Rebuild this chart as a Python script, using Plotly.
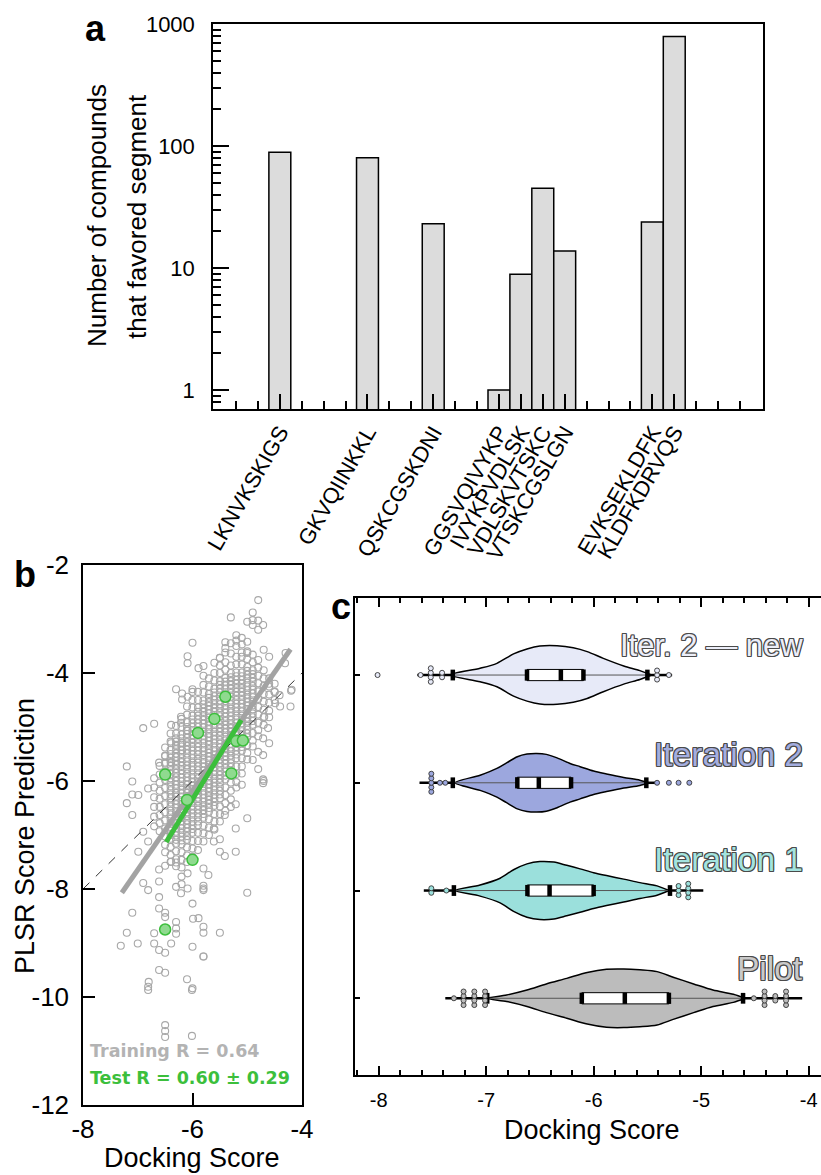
import plotly.graph_objects as go

# figure fills the whole 821x1175 window (body margin removed in post_script)
PAGE_W, PAGE_H = 821, 1175
OFF = 0
W, H = PAGE_W - OFF, PAGE_H - OFF


def fx(px):
    return (px - OFF) / W


def fy(py):
    return 1 - (py - OFF) / H


# ---------------- panel a data ----------------
seg_labels = ["LKNVKSKIGS", "GKVQIINKKL", "QSKCGSKDNI", "GGSVQIVYKP", "IVYKPVDLSK",
              "VDLSKVTSKC", "VTSKCGSLGN", "EVKSEKLDFK", "KLDFKDRVQS"]
seg_slots = [2, 6, 9, 12, 13, 14, 15, 19, 20]
seg_counts = [89, 80, 23, 1, 8.9, 45, 13.8, 23.8, 790]
unlabeled_major_slots = [4]
n_slots = 24
ya_ticks = [1, 10, 100, 1000]
ya_minor = [0.8, 0.9, 2, 3, 4, 5, 6, 7, 8, 9, 20, 30, 40, 50, 60, 70, 80, 90,
            200, 300, 400, 500, 600, 700, 800, 900]

# ---------------- panel b data ----------------
xb_ticks = [-8, -6, -4]
yb_ticks = [-12, -10, -8, -6, -4, -2]
train_cols_x = [-6.7, -6.6, -6.5, -6.4, -6.3, -6.2, -6.1, -6.0, -5.9, -5.8, -5.7, -5.6,
                -5.5, -5.4, -5.3, -5.2, -5.1, -5.0, -4.9, -4.8, -4.7, -4.6, -4.5]
train_cols_y = [
    [-5.95, -6.12, -6.3, -6.48, -6.66, -6.84],
    [-5.72, -5.88, -6.03, -6.18, -6.33, -6.48, -6.63, -6.78, -6.93],
    [-5.38, -5.53, -5.68, -5.83, -5.98, -6.13, -6.28, -6.43, -6.58, -6.73, -6.88, -7.03, -7.18, -7.32],
    [-5.12, -5.27, -5.42, -5.57, -5.72, -5.87, -6.02, -6.17, -6.32, -6.47, -6.62, -6.77, -6.92, -7.07,
     -7.22, -7.37, -7.5],
    [-4.98, -5.12, -5.27, -5.41, -5.56, -5.7, -5.85, -6.0, -6.14, -6.29, -6.43, -6.58, -6.72, -6.87,
     -7.01, -7.16, -7.3, -7.45, -7.58],
    [-4.85, -5.0, -5.14, -5.29, -5.43, -5.58, -5.72, -5.87, -6.01, -6.16, -6.3, -6.45, -6.59, -6.74,
     -6.88, -7.03, -7.17, -7.32, -7.46, -7.6],
    [-4.62, -4.77, -4.91, -5.06, -5.2, -5.35, -5.49, -5.64, -5.78, -5.93, -6.07, -6.22, -6.36, -6.51,
     -6.65, -6.8, -6.94, -7.09, -7.23, -7.38, -7.5],
    [-4.5, -4.64, -4.79, -4.93, -5.08, -5.22, -5.37, -5.51, -5.66, -5.8, -5.95, -6.09, -6.24, -6.38,
     -6.53, -6.67, -6.82, -6.96, -7.11, -7.25, -7.4],
    [-4.35, -4.5, -4.64, -4.79, -4.93, -5.08, -5.22, -5.37, -5.51, -5.66, -5.8, -5.95, -6.09, -6.24,
     -6.38, -6.53, -6.67, -6.82, -6.96, -7.11, -7.28],
    [-4.22, -4.36, -4.51, -4.65, -4.8, -4.94, -5.09, -5.23, -5.38, -5.52, -5.67, -5.81, -5.96, -6.1,
     -6.25, -6.39, -6.54, -6.68, -6.83, -6.97, -7.12],
    [-4.1, -4.25, -4.39, -4.54, -4.68, -4.83, -4.97, -5.12, -5.26, -5.41, -5.55, -5.7, -5.84, -5.99,
     -6.13, -6.28, -6.42, -6.57, -6.71, -6.86, -7.0],
    [-4.0, -4.14, -4.29, -4.43, -4.58, -4.72, -4.87, -5.01, -5.16, -5.3, -5.45, -5.59, -5.74, -5.88,
     -6.03, -6.17, -6.32, -6.46, -6.61, -6.75, -6.9],
    [-3.86, -4.0, -4.15, -4.29, -4.44, -4.58, -4.73, -4.87, -5.02, -5.16, -5.31, -5.45, -5.6, -5.74,
     -5.89, -6.03, -6.18, -6.32, -6.47, -6.61, -6.75],
    [-3.8, -3.94, -4.09, -4.23, -4.38, -4.52, -4.67, -4.81, -4.96, -5.1, -5.25, -5.39, -5.54, -5.68,
     -5.83, -5.97, -6.12, -6.26, -6.41, -6.55],
    [-3.86, -4.0, -4.15, -4.29, -4.44, -4.58, -4.73, -4.87, -5.02, -5.16, -5.31, -5.45, -5.6, -5.74,
     -5.89, -6.03, -6.18, -6.34],
    [-3.7, -3.84, -3.99, -4.13, -4.28, -4.42, -4.57, -4.71, -4.86, -5.0, -5.15, -5.29, -5.44, -5.58,
     -5.73, -5.87, -6.02, -6.12],
    [-3.7, -3.84, -3.99, -4.13, -4.28, -4.42, -4.57, -4.71, -4.86, -5.0, -5.15, -5.29, -5.44, -5.58,
     -5.73, -5.86],
    [-3.6, -3.74, -3.89, -4.03, -4.18, -4.32, -4.47, -4.61, -4.76, -4.9, -5.05, -5.19, -5.34, -5.48, -5.6],
    [-3.66, -3.8, -3.95, -4.09, -4.24, -4.38, -4.53, -4.67, -4.82, -4.96, -5.11, -5.25, -5.36],
    [-3.76, -3.9, -4.05, -4.19, -4.34, -4.48, -4.63, -4.77, -4.92, -5.06, -5.17],
    [-3.95, -4.1, -4.24, -4.39, -4.53, -4.68, -4.82, -4.96],
    [-4.1, -4.25, -4.4, -4.55, -4.7, -4.82],
    [-4.2, -4.35, -4.5],
]
# second, interleaved layer of the densest part of the cloud
train_core2_x = [-6.4, -6.3, -6.2, -6.1, -6.0, -5.9, -5.8, -5.7, -5.6, -5.5, -5.4, -5.3, -5.2, -5.1,
                 -5.0, -4.9]
train_core2_y = [
    [-5.5, -5.65, -5.8, -5.95, -6.1, -6.25, -6.4, -6.55, -6.7, -6.85, -7.0],
    [-5.35, -5.49, -5.63, -5.78, -5.93, -6.07, -6.22, -6.36, -6.5, -6.65, -6.8, -6.94, -7.09],
    [-5.21, -5.36, -5.5, -5.65, -5.8, -5.94, -6.09, -6.23, -6.38, -6.52, -6.67, -6.81, -6.96, -7.1],
    [-5.0, -5.13, -5.28, -5.42, -5.57, -5.71, -5.86, -6.0, -6.15, -6.29, -6.44, -6.58, -6.73, -6.87, -7.02],
    [-4.86, -5.0, -5.15, -5.29, -5.44, -5.58, -5.73, -5.88, -6.02, -6.17, -6.31, -6.46, -6.6, -6.75, -6.89],
    [-4.72, -4.86, -5.0, -5.15, -5.3, -5.44, -5.59, -5.73, -5.88, -6.02, -6.17, -6.31, -6.46, -6.6, -6.75],
    [-4.58, -4.72, -4.87, -5.01, -5.16, -5.3, -5.45, -5.6, -5.74, -5.89, -6.03, -6.18, -6.32, -6.47, -6.61],
    [-4.46, -4.61, -4.75, -4.9, -5.04, -5.19, -5.33, -5.48, -5.62, -5.77, -5.91, -6.06, -6.2, -6.35, -6.5],
    [-4.36, -4.5, -4.65, -4.8, -4.94, -5.09, -5.23, -5.38, -5.52, -5.67, -5.81, -5.96, -6.1, -6.25, -6.39],
    [-4.22, -4.36, -4.51, -4.65, -4.8, -4.95, -5.09, -5.24, -5.38, -5.53, -5.67, -5.82, -5.96, -6.11, -6.25],
    [-4.16, -4.3, -4.45, -4.6, -4.74, -4.89, -5.03, -5.18, -5.32, -5.47, -5.61, -5.76, -5.9],
    [-4.08, -4.22, -4.37, -4.51, -4.66, -4.8, -4.95, -5.09, -5.24, -5.38, -5.53, -5.67, -5.82],
    [-4.06, -4.2, -4.35, -4.5, -4.64, -4.79, -4.93, -5.08, -5.22, -5.37, -5.51],
    [-4.06, -4.2, -4.35, -4.5, -4.64, -4.79, -4.93, -5.08, -5.22, -5.37],
    [-3.96, -4.1, -4.25, -4.4, -4.54, -4.69, -4.83, -4.98, -5.12],
    [-4.02, -4.16, -4.31, -4.45, -4.6, -4.75, -4.89],
]
train_extra_x = [
    -4.80, -5.30, -4.90, -5.00, -4.90, -4.80, -4.71, -4.80, -4.90,
    -5.20, -5.20, -5.10, -5.40, -5.30, -5.20, -5.10, -5.00, -5.40, -6.00,
    -5.10, -5.30, -5.40, -5.50, -5.00, -4.70, -4.60, -4.30, -4.31,
    -6.09, -6.09, -5.89, -5.80, -5.60, -5.50,
    -6.30, -6.19, -6.19, -6.09, -6.00, -5.80,
    -4.41, -4.19, -4.49, -4.40, -4.21, -4.50, -4.60, -4.20,
    -4.69, -4.62, -4.71, -4.60, -4.71, -4.80, -4.90, -4.80, -4.71,
    -6.90, -6.70, -6.39, -6.21, -6.00, -6.09, -6.21,
    -6.30, -6.39, -6.30, -6.19, -6.19,
    -6.50, -6.61, -6.50, -6.39, -6.30,
    -7.20, -7.10, -7.10, -6.99, -6.81, -7.20, -7.10, -6.90, -6.81, -6.99,
    -6.90, -6.81, -7.10, -7.20, -7.31, -7.00, -6.70, -6.70, -6.61, -6.50, -6.61, -6.50, -6.81,
    -6.61, -6.61, -6.50, -6.50, -6.30, -6.30, -6.30, -6.39,
    -6.20, -6.20, -6.21, -6.09, -6.30, -6.09, -6.00, -5.89, -6.00, -5.80, -6.10, -6.00,
    -6.61, -6.61, -6.50, -6.39, -6.30, -5.80, -5.80,
    -6.50, -6.50, -6.50, -6.81, -6.01, -6.01, -6.80,
    -5.10, -4.71, -5.21, -5.30, -5.00, -5.21, -5.41, -5.61, -5.61, -5.50, -5.50, -5.41, -5.21,
    -5.80, -5.71, -5.80, -5.80, -5.00, -5.80, -5.50, -5.80, -5.99, -4.70,
]
train_extra_y = [
    -2.65, -2.97, -2.88, -3.05, -3.02, -3.03, -3.11, -3.20, -3.11,
    -3.30, -3.40, -3.35, -3.43, -3.45, -3.50, -3.47, -3.42, -3.54, -3.44,
    -3.62, -3.64, -3.62, -3.72, -3.63, -3.57, -3.70, -3.63, -3.82,
    -3.69, -3.82, -3.91, -3.87, -3.81, -3.72,
    -4.30, -4.38, -4.49, -4.44, -4.30, -4.05,
    -4.41, -4.31, -4.56, -4.62, -4.62, -4.35, -4.20, -4.33,
    -4.81, -5.02, -5.21, -5.30, -5.52, -5.46, -5.61, -5.78, -5.97,
    -5.02, -4.94, -4.96, -4.81, -4.35, -5.07, -4.92,
    -5.21, -5.30, -5.33, -5.30, -5.43,
    -5.54, -5.66, -5.66, -5.66, -5.55,
    -5.73, -6.01, -6.25, -6.26, -6.14, -6.41, -6.63, -6.94, -7.12, -7.31,
    -7.89, -8.02, -8.44, -8.81, -9.05, -9.01, -8.82, -9.01, -9.13, -9.18, -9.50, -9.55, -9.81,
    -8.15, -8.36, -8.44, -8.52, -8.61, -8.73, -8.83, -9.01,
    -7.77, -7.91, -8.08, -7.99, -7.96, -7.71, -8.27, -8.54, -9.07, -9.25, -9.67, -9.84,
    -7.64, -7.86, -7.57, -7.49, -7.51, -7.99, -8.70,
    -10.52, -10.63, -10.74, -9.87, -9.87, -10.72, -9.72,
    -6.07, -6.04, -6.43, -6.48, -6.69, -6.88, -6.63, -6.88, -7.12, -7.08, -7.31, -7.39, -7.31,
    -7.62, -7.74, -7.94, -8.02, -8.07, -8.81, -8.81, -9.25, -8.55, -6.00,
]
test_x = [-5.40, -5.60, -5.90, -5.20, -5.08, -6.50, -5.29, -6.10, -6.00, -6.50]
test_y = [-4.44, -4.85, -5.11, -5.26, -5.25, -5.88, -5.86, -6.35, -7.46, -8.75]
train_fit_x = [-7.29, -4.21]
train_fit_y = [-8.07, -3.56]
test_fit_x = [-6.48, -5.11]
test_fit_y = [-7.13, -4.87]
identity_xy = [-8, -4]

# ---------------- panel c data ----------------
xc_ticks = [-8, -7, -6, -5, -4]
group_names = ["Pilot", "Iteration 1", "Iteration 2", "Iter. 2 \u2014 new"]
group_pos = [0, 1, 2, 3]
group_fill = ["#bcbcbc", "#9be0dc", "#9ca7de", "#e7eaf8"]
label_fill = ["#c9c9c9", "#a3e3df", "#a3addf", "#eceef9"]

pilot_kde_x = [-6.99, -6.81, -6.62, -6.44, -6.25, -6.06, -5.88, -5.72, -5.57, -5.41, -5.26, -5.07, -4.89, -4.70, -4.59]
pilot_kde_d = [0.0, 0.11, 0.28, 0.49, 0.68, 0.88, 0.99, 1.0, 0.97, 0.91, 0.72, 0.49, 0.28, 0.14, 0.0]
iter1_kde_x = [-7.29, -7.056, -6.87, -6.745, -6.62, -6.50, -6.37, -6.25, -6.126, -6.0, -5.88, -5.72, -5.57, -5.41, -5.30]
iter1_kde_d = [0.0, 0.19, 0.42, 0.71, 0.91, 0.99, 0.97, 0.86, 0.74, 0.61, 0.51, 0.39, 0.27, 0.16, 0.0]
iter2_kde_x = [-7.29, -7.056, -6.90, -6.81, -6.71, -6.62, -6.53, -6.44, -6.34, -6.22, -6.126, -6.0, -5.88, -5.72, -5.57, -5.49]
iter2_kde_d = [0.0, 0.26, 0.49, 0.68, 0.89, 0.98, 1.0, 0.97, 0.85, 0.66, 0.55, 0.40, 0.30, 0.18, 0.09, 0.0]
new_kde_x = [-7.335, -7.056, -6.90, -6.745, -6.62, -6.50, -6.34, -6.19, -6.06, -5.91, -5.72, -5.57, -5.46]
new_kde_d = [0.0, 0.23, 0.40, 0.72, 0.89, 0.99, 1.0, 0.93, 0.80, 0.57, 0.31, 0.15, 0.0]

pilot_box = [-6.11, -5.71, -5.30]
iter1_box = [-6.616, -6.41, -6.00]
iter2_box = [-6.71, -6.51, -6.21]
new_box = [-6.62, -6.305, -6.095]

pilot_fence = [-6.99, -4.61]
iter1_fence = [-7.30, -5.29]
iter2_fence = [-7.31, -5.51]
new_fence = [-7.31, -5.50]

pilot_tip = [-7.38, -4.06]
iter1_tip = [-7.58, -4.98]
iter2_tip = [-7.62, -5.41]
new_tip = [-7.64, -5.27]

pilot_out_x = [-7.30, -7.21, -7.11, -7.01, -4.51, -4.41, -4.31, -4.21]
pilot_out_n = [1, 4, 4, 4, 1, 4, 2, 4]
iter1_out_x = [-7.51, -7.37, -5.21, -5.12]
iter1_out_n = [2, 1, 3, 4]
iter2_out_x = [-7.51, -7.43, -7.38, -5.41, -5.30, -5.21, -5.11]
iter2_out_n = [5, 1, 1, 1, 1, 1, 1]
new_out_x = [-8.01, -7.61, -7.515, -7.41, -5.41, -5.30]
new_out_n = [1, 1, 4, 2, 3, 1]

# ---------------- styles ----------------
FONT = "Liberation Sans, Arial, sans-serif"
BAR_FILL = "#dcdcdc"
TRAIN_COLOR = "#a8a8a8"
TEST_LINE = "#3cbf3c"
TEST_FILL = "#8fda8f"
VW = 0.272      # violin max half width (y units)
BH = 0.052      # box half height
FH = 0.05       # fence mark half height
OUT_STEP = 0.042


def hyphen_labels(vals):
    return ["-" + str(abs(v)) if v < 0 else str(v) for v in vals]


fig = go.Figure()

# ---------------- panel a ----------------
fig.add_trace(go.Bar(x=seg_slots, y=seg_counts, width=1.0,
                     marker=dict(color=BAR_FILL, line=dict(color="black", width=1.5)),
                     xaxis="x", yaxis="y", hoverinfo="skip"))

major_slots = sorted(seg_slots + unlabeled_major_slots)
major_text = [seg_labels[seg_slots.index(s)] if s in seg_slots else "" for s in major_slots]

# ---------------- panel b ----------------
tr_x, tr_y = [], []
for cx, ys in zip(train_cols_x, train_cols_y):
    tr_x += [cx] * len(ys)
    tr_y += ys
for cx, ys in zip(train_core2_x, train_core2_y):
    tr_x += [cx] * len(ys)
    tr_y += ys
tr_x += train_extra_x
tr_y += train_extra_y

fig.add_trace(go.Scatter(x=tr_x, y=tr_y, mode="markers", xaxis="x2", yaxis="y2",
                         marker=dict(symbol="circle-open", size=7, color=TRAIN_COLOR,
                                     line=dict(width=1.1, color=TRAIN_COLOR)),
                         hoverinfo="skip"))
fig.add_trace(go.Scatter(x=identity_xy, y=identity_xy, mode="lines", xaxis="x2", yaxis="y2",
                         line=dict(color="#333333", width=1, dash="dash"), hoverinfo="skip"))
fig.add_trace(go.Scatter(x=train_fit_x, y=train_fit_y, mode="lines", xaxis="x2", yaxis="y2",
                         line=dict(color="#a3a3a3", width=5), hoverinfo="skip"))
fig.add_trace(go.Scatter(x=test_fit_x, y=test_fit_y, mode="lines", xaxis="x2", yaxis="y2",
                         line=dict(color=TEST_LINE, width=5), hoverinfo="skip"))
fig.add_trace(go.Scatter(x=test_x, y=test_y, mode="markers", xaxis="x2", yaxis="y2",
                         marker=dict(symbol="circle", size=11, color=TEST_FILL,
                                     line=dict(width=1.5, color=TEST_LINE)),
                         hoverinfo="skip"))


# ---------------- panel c ----------------
def add_violin(pos, kx, kd, box, fence, tip, ox, on, fill):
    top = [pos + d * VW for d in kd]
    bot = [pos - d * VW for d in kd]
    fig.add_trace(go.Scatter(x=kx + kx[::-1], y=top + bot[::-1], mode="lines",
                             fill="toself", fillcolor=fill,
                             line=dict(color="black", width=1.5, shape="spline", smoothing=0.8),
                             xaxis="x3", yaxis="y3", hoverinfo="skip"))
    fig.add_trace(go.Scatter(x=[fence[0], fence[1]], y=[pos, pos], mode="lines",
                             line=dict(color="#555555", width=1), xaxis="x3", yaxis="y3",
                             hoverinfo="skip"))
    fig.add_trace(go.Scatter(x=[tip[0], fence[0], None, fence[1], tip[1]],
                             y=[pos, pos, None, pos, pos], mode="lines",
                             line=dict(color="black", width=2.5), xaxis="x3", yaxis="y3",
                             hoverinfo="skip"))
    q1, med, q3 = box
    fig.add_trace(go.Scatter(x=[q1, q3, q3, q1, q1], y=[pos - BH, pos - BH, pos + BH, pos + BH, pos - BH],
                             mode="lines", fill="toself", fillcolor="white",
                             line=dict(color="black", width=1), xaxis="x3", yaxis="y3",
                             hoverinfo="skip"))
    bx, by = [], []
    for q in (q1, med, q3):
        bx += [q, q, None]
        by += [pos - BH, pos + BH, None]
    fig.add_trace(go.Scatter(x=bx, y=by, mode="lines", line=dict(color="black", width=4.5),
                             xaxis="x3", yaxis="y3", hoverinfo="skip"))
    fx_, fy_ = [], []
    for f in fence:
        fx_ += [f, f, None]
        fy_ += [pos - FH, pos + FH, None]
    fig.add_trace(go.Scatter(x=fx_, y=fy_, mode="lines", line=dict(color="black", width=4.5),
                             xaxis="x3", yaxis="y3", hoverinfo="skip"))
    px_, py_ = [], []
    for xv, n in zip(ox, on):
        for i in range(n):
            px_.append(xv)
            py_.append(pos + (i - (n - 1) / 2) * OUT_STEP)
    fig.add_trace(go.Scatter(x=px_, y=py_, mode="markers",
                             marker=dict(symbol="circle", size=5, color=fill,
                                         line=dict(color="#333333", width=0.9)),
                             xaxis="x3", yaxis="y3", hoverinfo="skip"))


add_violin(group_pos[0], pilot_kde_x, pilot_kde_d, pilot_box, pilot_fence, pilot_tip,
           pilot_out_x, pilot_out_n, group_fill[0])
add_violin(group_pos[1], iter1_kde_x, iter1_kde_d, iter1_box, iter1_fence, iter1_tip,
           iter1_out_x, iter1_out_n, group_fill[1])
add_violin(group_pos[2], iter2_kde_x, iter2_kde_d, iter2_box, iter2_fence, iter2_tip,
           iter2_out_x, iter2_out_n, group_fill[2])
add_violin(group_pos[3], new_kde_x, new_kde_d, new_box, new_fence, new_tip,
           new_out_x, new_out_n, group_fill[3])

# ---------------- layout ----------------
axis_common = dict(showline=True, linecolor="black", linewidth=1.5, showgrid=False,
                   zeroline=False, ticks="inside", tickcolor="black", tickwidth=1.5,
                   automargin=False)

layout = dict(
    template="none",
    width=W, height=H, margin=dict(l=0, r=0, t=0, b=0, pad=0),
    paper_bgcolor="white", plot_bgcolor="white", showlegend=False,
    font=dict(family=FONT, color="black"),
    xaxis=dict(axis_common, domain=[fx(213), fx(763)], anchor="y", range=[-1.05, 24.05],
               mirror=True, tickmode="array", tickvals=major_slots, ticktext=major_text,
               ticklen=15, tickangle=-60, tickfont=dict(size=22, family=FONT, color="black"),
               ticklabelstandoff=0,
               minor=dict(tickmode="array", tickvals=list(range(n_slots)), ticks="inside",
                          ticklen=8, tickwidth=1.5, tickcolor="black")),
    yaxis=dict(axis_common, domain=[fy(409), fy(24)], anchor="x", type="log",
               range=[-0.156, 3.0], mirror=True, tickmode="array", tickvals=ya_ticks,
               ticktext=[str(v) for v in ya_ticks], ticklen=16,
               tickfont=dict(size=22, family=FONT, color="black"), ticklabelstandoff=12,
               minor=dict(tickmode="array", tickvals=ya_minor, ticks="inside",
                          ticklen=8, tickwidth=1.5, tickcolor="black")),
    xaxis2=dict(axis_common, domain=[fx(83), fx(302)], anchor="y2", range=[-8, -4],
                mirror=True, tickmode="array", tickvals=xb_ticks,
                ticktext=hyphen_labels(xb_ticks), ticklen=12,
                tickfont=dict(size=26, family=FONT, color="black"), ticklabelstandoff=0),
    yaxis2=dict(axis_common, domain=[fy(1105), fy(565)], anchor="x2", range=[-12, -2],
                mirror=True, tickmode="array", tickvals=yb_ticks,
                ticktext=hyphen_labels(yb_ticks), ticklen=12,
                tickfont=dict(size=26, family=FONT, color="black"), ticklabelstandoff=7),
    xaxis3=dict(axis_common, domain=[fx(355), 1.0], anchor="y3", range=[-8.22, -3.885],
                mirror="allticks", tickmode="array", tickvals=xc_ticks,
                ticktext=hyphen_labels(xc_ticks), ticklen=9,
                tickfont=dict(size=20, family=FONT, color="black"), ticklabelstandoff=6,
                ticklabeloverflow="allow",
                minor=dict(dtick=0.2, tick0=-8, ticks="inside", ticklen=5, tickwidth=1.5,
                           tickcolor="black")),
    yaxis3=dict(axis_common, domain=[fy(1075), fy(598)], anchor="x3", range=[-0.712, 3.715],
                tickmode="array", tickvals=group_pos, ticktext=["" for _ in group_pos],
                ticklen=5),
)
fig.update_layout(layout)

ann = []
ann.append(dict(text="<b>a</b>", x=fx(95), y=fy(29), font=dict(size=36, family=FONT)))
ann.append(dict(text="<b>b</b>", x=fx(25), y=fy(574), font=dict(size=36, family=FONT)))
ann.append(dict(text="<b>c</b>", x=fx(341), y=fy(606), font=dict(size=36, family=FONT)))
ann.append(dict(text="Number of compounds", x=fx(97), y=fy(216), textangle=-90,
                font=dict(size=26, family=FONT)))
ann.append(dict(text="that favored segment", x=fx(137), y=fy(217), textangle=-90,
                font=dict(size=26, family=FONT)))
ann.append(dict(text="PLSR Score Prediction", x=fx(25), y=fy(836), textangle=-90,
                font=dict(size=27, family=FONT)))
ann.append(dict(text="Docking Score", x=fx(192), y=fy(1158), font=dict(size=27, family=FONT)))
ann.append(dict(text="Docking Score", x=fx(592), y=fy(1130), font=dict(size=27, family=FONT)))
ann.append(dict(text="<b>Training R = 0.64</b>", x=fx(88), y=fy(1051), xanchor="left",
                font=dict(size=17.5, family="DejaVu Sans", color="#b3b3b3")))
ann.append(dict(text="<b>Test R = 0.60 \u00b1 0.29</b>", x=fx(88), y=fy(1078), xanchor="left",
                font=dict(size=17.5, family="DejaVu Sans", color="#3cbf3c")))
label_y = [968, 860, 754, 646]
label_size = [33.5, 33.5, 33.5, 31]
outline = "#4a4a4a"
shadow = ("-1px -1px 0 {c}, 1px -1px 0 {c}, -1px 1px 0 {c}, 1px 1px 0 {c}, "
          "0 1px 0 {c}, 0 -1px 0 {c}, 1px 0 0 {c}, -1px 0 0 {c}").format(c=outline)
for name, ly, lc, ls in zip(group_names, label_y, label_fill, label_size):
    ann.append(dict(text=name, x=fx(805), y=fy(ly), xanchor="right",
                    font=dict(size=ls, family=FONT, color=lc, shadow=shadow)))

for a in ann:
    a.setdefault("xanchor", "center")
    a.setdefault("yanchor", "middle")
    a.update(xref="paper", yref="paper", showarrow=False)
fig.update_layout(annotations=ann)

page_css = ("document.documentElement.style.margin='0';document.body.style.margin='0';"
            "document.documentElement.style.overflow='hidden';document.body.style.overflow='hidden';")
fig.write_html("out.html", post_script=page_css, config={"displayModeBar": False})
